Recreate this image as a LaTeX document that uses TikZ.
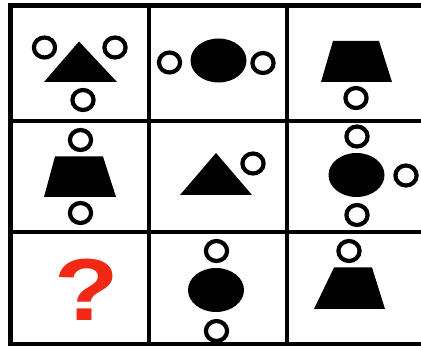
\documentclass[tikz,border=0pt]{standalone}
\usepackage{fontspec}
\setmainfont{Liberation Sans}
\definecolor{qred}{RGB}{240,40,20}
\tikzset{
  gridline/.style={line width=4.2pt, black},
  ring/.style={line width=4.2pt, black},
  solid shape/.style={fill=black, draw=none}
}
\newcommand{\ring}[2]{\draw[ring] (#1,#2) ellipse [x radius=10.6, y radius=10];}
\begin{document}
\begin{tikzpicture}[x=1pt,y=-1pt]
\useasboundingbox (0,0) rectangle (421,350);
\fill[white] (0,0) rectangle (421,350);
% grid
\draw[gridline] (8.5,5.5) -- (421,5.5);
\draw[gridline] (8.5,121) -- (421,121);
\draw[gridline] (8.5,232) -- (421,232);
\draw[gridline] (8.5,344) -- (421,344);
\draw[gridline] (10.5,3.5) -- (10.5,346);
\draw[gridline] (149,3.5) -- (149,346);
\draw[gridline] (287,3.5) -- (287,346);
% cell 1,1
\fill[solid shape] (79,41.5) -- (117,82) -- (44,82) -- cycle;
\ring{44.5}{47.5}
\ring{115}{47.5}
\ring{83}{100}
% cell 1,2
\fill[solid shape] (218.5,60.5) ellipse [x radius=28, y radius=22];
\ring{169.5}{62.5}
\ring{263}{63}
% cell 1,3
\fill[solid shape] (333,41) -- (379,41) -- (392,82) -- (321,82) -- cycle;
\ring{356}{98}
% cell 2,1
\fill[solid shape] (55,156.5) -- (103,156.5) -- (116,197) -- (44,197) -- cycle;
\ring{80.5}{140}
\ring{80.5}{213}
% cell 2,2
\fill[solid shape] (216,153) -- (252,195) -- (180,195) -- cycle;
\ring{253}{163.5}
% cell 2,3
\fill[solid shape] (356.5,175) ellipse [x radius=28, y radius=22];
\ring{357}{136.5}
\ring{406}{175.5}
\ring{357}{215}
% cell 3,1
\node[text=qred, font=\fontsize{88}{88}\selectfont\bfseries, inner sep=0pt, anchor=base, xscale=1.2] (q) at (86.5,320) {?};
% cell 3,2
\fill[solid shape] (216,290) ellipse [x radius=28, y radius=22];
\ring{216.5}{251}
\ring{216.5}{331}
% cell 3,3
\fill[solid shape] (334,267.5) -- (372,267.5) -- (385,309) -- (314,309) -- cycle;
\ring{349}{251}
\end{tikzpicture}
\end{document}
